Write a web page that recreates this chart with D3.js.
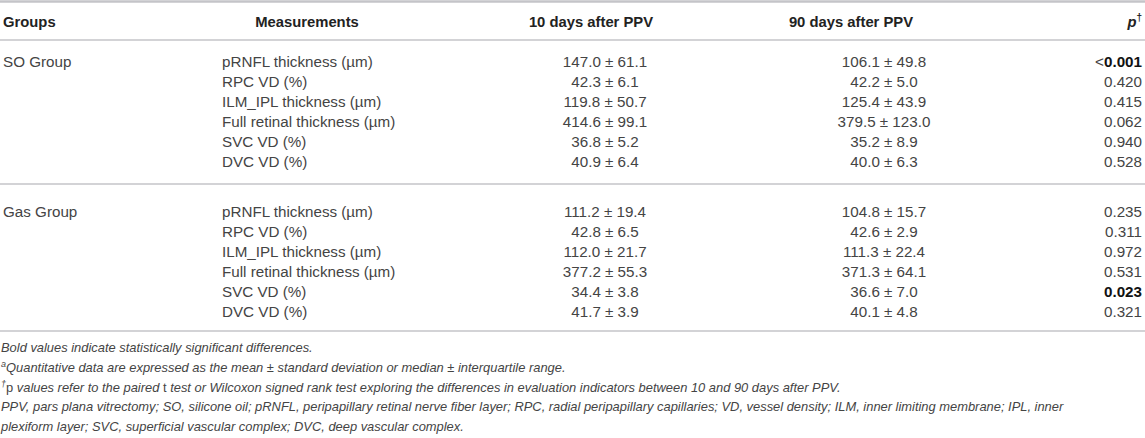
<!DOCTYPE html>
<html>
<head>
<meta charset="utf-8">
<script src="https://cdn.jsdelivr.net/npm/d3@7"></script>
<style>
  body { margin: 0; background: #fff; }
  svg { display: block; font-family: "Liberation Sans", Arial, sans-serif; }
</style>
</head>
<body>
<div id="viz"></div>
<script>
// table data
const groups = ["SO Group", "Gas Group"];
const measurements = [
  "pRNFL thickness (\u00b5m)",
  "RPC VD (%)",
  "ILM_IPL thickness (\u00b5m)",
  "Full retinal thickness (\u00b5m)",
  "SVC VD (%)",
  "DVC VD (%)"
];
const day10 = [
  ["147.0 \u00b1 61.1", "42.3 \u00b1 6.1", "119.8 \u00b1 50.7", "414.6 \u00b1 99.1", "36.8 \u00b1 5.2", "40.9 \u00b1 6.4"],
  ["111.2 \u00b1 19.4", "42.8 \u00b1 6.5", "112.0 \u00b1 21.7", "377.2 \u00b1 55.3", "34.4 \u00b1 3.8", "41.7 \u00b1 3.9"]
];
const day90 = [
  ["106.1 \u00b1 49.8", "42.2 \u00b1 5.0", "125.4 \u00b1 43.9", "379.5 \u00b1 123.0", "35.2 \u00b1 8.9", "40.0 \u00b1 6.3"],
  ["104.8 \u00b1 15.7", "42.6 \u00b1 2.9", "111.3 \u00b1 22.4", "371.3 \u00b1 64.1", "36.6 \u00b1 7.0", "40.1 \u00b1 4.8"]
];
const pPrefix = [["<", "", "", "", "", ""], ["", "", "", "", "", ""]];
const pValues = [
  ["0.001", "0.420", "0.415", "0.062", "0.940", "0.528"],
  ["0.235", "0.311", "0.972", "0.531", "0.023", "0.321"]
];
const pBold = [
  [true, false, false, false, false, false],
  [false, false, false, false, true, false]
];
const headers = ["Groups", "Measurements", "10 days after PPV", "90 days after PPV"];

// footnotes: [superscript, [text, italic]...]
const notes = [
  ["", [["Bold values indicate statistically significant differences.", true]]],
  ["a", [["Quantitative data are expressed as the mean \u00b1 standard deviation or median \u00b1 interquartile range.", true]]],
  ["\u2020", [["p", false], [" values refer to the paired ", true], ["t", false],
              [" test or Wilcoxon signed rank test exploring the differences in evaluation indicators between 10 and 90 days after PPV.", true]]],
  ["", [["PPV, pars plana vitrectomy; SO, silicone oil; pRNFL, peripapillary retinal nerve fiber layer; RPC, radial peripapillary capillaries; VD, vessel density; ILM, inner limiting membrane; IPL, inner", true]]],
  ["", [["plexiform layer; SVC, superficial vascular complex; DVC, deep vascular complex.", true]]]
];

const W = 1145, H = 438;
const textColor = "#444";
const lineColor = "#c4c4c8";
const bodySize = "15.2px";

const svg = d3.select("#viz").append("svg")
    .attr("width", W)
    .attr("height", H);

// row positions inside a group, and group offsets
const rowY = d3.scaleLinear().domain([0, measurements.length - 1]).range([62, 162]);
const groupY = d3.scaleLinear().domain([0, 1]).range([0, 150]);

// rules
const rules = [1.5, 40, 184, 331];
svg.selectAll("line.rule")
    .data(rules)
    .enter().append("line")
    .attr("class", "rule")
    .attr("x1", 0).attr("x2", W)
    .attr("y1", d => d).attr("y2", d => d)
    .style("stroke", lineColor)
    .style("stroke-width", (d, i) => i == 0 ? 2.5 : 1.6);

// header
const headerX = [3, 307, 591, 851];
const headerAnchor = ["start", "middle", "middle", "middle"];
svg.selectAll("text.head")
    .data(headers)
    .enter().append("text")
    .attr("class", "head")
    .attr("x", (d, i) => headerX[i])
    .attr("y", 27)
    .attr("text-anchor", (d, i) => headerAnchor[i])
    .style("font-size", "14.8px")
    .style("font-weight", "bold")
    .style("fill", "#222")
    .text(d => d);

const pHead = svg.append("text")
    .attr("x", 1142).attr("y", 27)
    .attr("text-anchor", "end")
    .style("font-size", "14.8px")
    .style("font-weight", "bold")
    .style("fill", "#222");
pHead.append("tspan").style("font-style", "italic").text("p");
pHead.append("tspan").attr("dy", -6).style("font-size", "10px").text("\u2020");

// body
const body = svg.selectAll("g.group")
    .data(groups)
    .enter().append("g")
    .attr("class", "group")
    .attr("transform", (d, i) => "translate(0," + groupY(i) + ")");

body.append("text")
    .attr("x", 3)
    .attr("y", rowY(0) + 5)
    .style("font-size", bodySize)
    .style("fill", textColor)
    .text(d => d);

body.each(function (g, gi) {
    const grp = d3.select(this);
    const rows = grp.selectAll("g.row")
        .data(measurements)
        .enter().append("g")
        .attr("class", "row")
        .attr("transform", (d, i) => "translate(0," + (rowY(i) + 5) + ")");

    rows.append("text")
        .attr("x", 222)
        .style("font-size", bodySize)
        .style("fill", textColor)
        .text(d => d);

    rows.append("text")
        .attr("x", 605)
        .attr("text-anchor", "middle")
        .style("font-size", bodySize)
        .style("fill", textColor)
        .text((d, i) => day10[gi][i]);

    rows.append("text")
        .attr("x", 884)
        .attr("text-anchor", "middle")
        .style("font-size", bodySize)
        .style("fill", textColor)
        .text((d, i) => day90[gi][i]);

    const p = rows.append("text")
        .attr("x", 1142)
        .attr("text-anchor", "end")
        .style("font-size", bodySize)
        .style("fill", textColor);
    p.append("tspan").text((d, i) => pPrefix[gi][i]);
    p.append("tspan")
        .style("font-weight", (d, i) => pBold[gi][i] ? "bold" : "normal")
        .style("fill", (d, i) => pBold[gi][i] ? "#111" : textColor)
        .text((d, i) => pValues[gi][i]);
});

// footnotes
const noteY = d3.scaleLinear().domain([0, notes.length - 1]).range([352, 431]);
const nt = svg.selectAll("text.note")
    .data(notes)
    .enter().append("text")
    .attr("class", "note")
    .attr("x", 1)
    .attr("y", (d, i) => noteY(i))
    .style("font-size", "12.9px")
    .style("fill", textColor);
nt.append("tspan")
    .attr("dy", d => d[0] ? -5 : 0)
    .style("font-size", "9px")
    .style("font-style", "italic")
    .text(d => d[0]);
nt.each(function (d) {
    const t = d3.select(this);
    d[1].forEach((seg, k) => {
        t.append("tspan")
            .attr("dy", k == 0 && d[0] ? 5 : 0)
            .style("font-style", seg[1] ? "italic" : "normal")
            .text(seg[0]);
    });
});
</script>
</body>
</html>
